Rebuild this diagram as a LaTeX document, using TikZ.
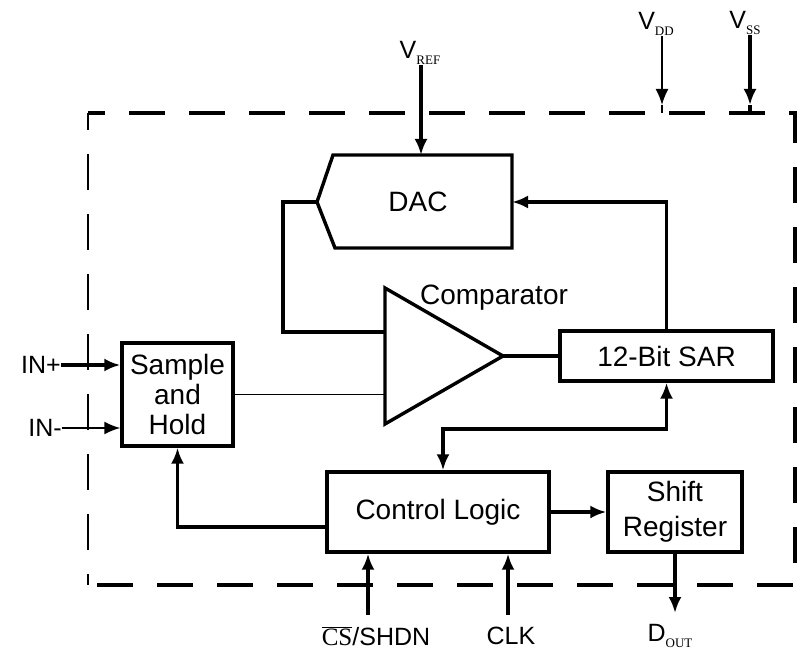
\documentclass[tikz,border=0pt]{standalone}
\usepackage{fontspec}
\setmainfont{Liberation Sans}
\newfontfamily\serifed{Liberation Serif}
\usetikzlibrary{arrows.meta}
\newcommand\pinsub[1]{\raisebox{-6pt}{\serifed\fontsize{13}{13}\selectfont #1}}
\begin{document}
\begin{tikzpicture}[x=1pt,y=-1pt,
  blk/.style={draw,line width=3.4pt,inner sep=0pt,align=center,font=\fontsize{28}{30}\selectfont},
  wire/.style={line width=3.4pt},
  thinw/.style={line width=1.8pt},
  frame/.style={dash pattern=on 36pt off 24pt,dash phase=19pt},
  arr/.style={-{Latex[length=16pt,width=13pt]}},
  arrboth/.style={{Latex[length=16pt,width=13pt]}-{Latex[length=16pt,width=13pt]}},
  txt/.style={font=\fontsize{28}{30}\selectfont,inner sep=0pt},
  pinlbl/.style={font=\fontsize{25}{27}\selectfont,inner sep=0pt}]
\useasboundingbox[fill=white] (0,0) rectangle (802,652);

% dashed outline
\coordinate (fTL) at (88,113);
\coordinate (fTR) at (795,113);
\coordinate (fBR) at (795,585);
\coordinate (fBL) at (88,585);
\draw[frame,line width=3.6pt] (fTL) -- (fTR) -- (fBR) -- (fBL);
\draw[frame,line width=2pt] (fTL) -- (fBL);

% blocks
\node[blk,minimum width=111pt,minimum height=103pt] (sh) at (177.5,394.5) {Sample\\and\\Hold};
\node[blk,minimum width=213pt,minimum height=50pt] (sar) at (666.5,356) {12-Bit SAR};
\node[blk,minimum width=222pt,minimum height=80pt] (ctl) at (438,512) {Control Logic};
\node[blk,minimum width=134pt,minimum height=80pt,font=\fontsize{28}{35}\selectfont] (shr) at (675,512) {Shift\\Register};

% DAC
\coordinate (dacL) at (317,202);
\coordinate (dacR) at (512,202);
\coordinate (dacT) at (421,155);
\draw[wire,line join=miter] (333,155) -- (512,155) -- (512,248) -- (335,248) -- (dacL) -- cycle;
\node[txt] (dac) at (418,202) {DAC};

% comparator
\coordinate (cin1) at (385,332);
\coordinate (cin2) at (385,394.5);
\coordinate (cout) at (503,356);
\draw[wire,line join=miter] (385,288) -- (cout) -- (385,424) -- cycle;
\node[txt] (cmp) at (494,298) {Comparator};

% pin labels
\node[pinlbl] (vref) at (420,53) {V\pinsub{REF}};
\node[pinlbl] (vdd) at (656,24) {V\pinsub{DD}};
\node[pinlbl] (vss) at (745,23) {V\pinsub{SS}};
\node[pinlbl] (inp) at (41,365) {IN+};
\node[pinlbl] (inn) at (45,428) {IN-};
\node[pinlbl] (cs) at (376,636) {$\overline{\hbox{\serifed CS}}$/SHDN};
\node[pinlbl] (clk) at (511,636) {CLK};
\node[pinlbl] (dout) at (670,636) {D\pinsub{OUT}};

% supply pins
\coordinate (vddA) at (662,105);
\coordinate (vddF) at (662,113);
\coordinate (vssA) at (750,105);
\coordinate (vssF) at (750,113);
\draw[thinw,arr] (vddA |- vdd.south) -- (vddA);
\draw[thinw] (vddA) -- (vddF);
\draw[wire,arr] (vssA |- vss.south) -- (vssA);
\draw[wire] (vssA) -- (vssF);
\draw[wire,arr] (dacT |- vref.south) -- (dacT);

% connections
\draw[wire,arr] (sar.north) |- (dacR);
\draw[wire] (dacL) -- (283,202) |- (cin1);
\draw[thinw] (sh.east) -- (cin2);
\draw[wire] (cout) -- (sar.west);
\coordinate (bus) at (443,429);
\draw[wire,arrboth] (sar.south) |- (bus) -- (bus |- ctl.north);
\draw[wire,arr] (ctl.west |- 0,527) -| (sh.south);
\draw[wire,arr] (ctl.east) -- (shr.west);
\draw[wire,arr] (shr.south) -- (shr.south |- 0,613);
\coordinate (csP) at (368,615);
\coordinate (clkP) at (508,615);
\draw[wire,arr] (csP) -- (csP |- ctl.south);
\draw[wire,arr] (clkP) -- (clkP |- ctl.south);
\draw[wire,arr] (inp.east) -- (sh.west |- inp.east);
\draw[thinw,arr] (inn.east) -- (sh.west |- inn.east);
\end{tikzpicture}
\end{document}
